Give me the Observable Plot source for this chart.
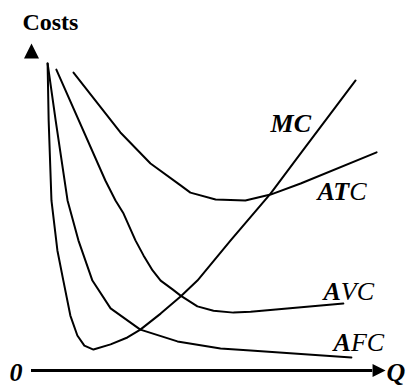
<!DOCTYPE html>
<html><head><meta charset="utf-8">
<script src="https://cdn.jsdelivr.net/npm/d3@7"></script>
<script src="https://cdn.jsdelivr.net/npm/@observablehq/plot@0.6"></script>
<style>html,body{margin:0;padding:0;background:#fff}</style>
</head><body><div id="chart"></div>
<script>
// Cost curves: [quantity, cost]
const mc = [[4.6,93.9],[4.9,76.5],[5.7,52.0],[7.4,36.7],[9.1,27.5],[11.1,16.8],[13.1,10.7],[15.1,7.6],[17.7,6.4],[22.6,8.0],[27.4,10.1],[31.1,12.5],[36.9,17.4],[42.6,22.6],[47.4,27.5],[56.9,39.8],[68.3,54.1],[76.9,66.4],[88.3,82.6],[92.6,88.7]];
const atc = [[12.0,91.1],[25.4,72.8],[34.0,63.3],[42.6,56.6],[45.4,54.4],[52.6,52.3],[61.1,52.0],[68.3,53.8],[76.9,57.2],[98.6,66.7]];
const avc = [[7.1,92.0],[21.1,58.1],[24.0,52.0],[26.3,48.0],[29.7,39.8],[32.0,35.2],[34.6,30.6],[36.9,27.5],[40.3,24.8],[42.6,22.9],[47.4,19.6],[52.0,18.3],[57.7,17.7],[62.6,18.0],[89.1,20.5]];
const afc = [[4.6,93.9],[6.9,76.5],[10.3,52.0],[13.4,39.8],[17.4,27.5],[22.6,19.0],[31.1,12.5],[41.7,8.9],[54.0,6.7],[62.6,6.1],[91.4,4.0]];

// Curve labels: bold part + plain part, and where each sits
const labelNames = ["MC", "ATC", "AVC", "AFC"];
const labelBold  = ["MC", "AT", "A", "A"];
const labelPlain = ["", "C", "VC", "FC"];
const labelQ = [68.3, 81.7, 83.4, 86.3];
const labelC = [72.8, 52.0, 21.7, 6.1];

const axisTitleY = "Costs";
const axisTitleX = "Q";
const originLabel = "0";

const serif = "'Liberation Serif', 'Times New Roman', serif";

const triUp = {draw(ctx, size) {const r = Math.sqrt(size / Math.PI); ctx.moveTo(0, -r); ctx.lineTo(r, r); ctx.lineTo(-r, r); ctx.closePath();}};
const triRight = {draw(ctx, size) {const r = Math.sqrt(size / Math.PI); ctx.moveTo(r, 0); ctx.lineTo(-r, -r); ctx.lineTo(-r, r); ctx.closePath();}};

const labels = labelNames.map((n, i) => ({name: n, q: labelQ[i], c: labelC[i]}));
const curves = [mc, atc, avc, afc];

const svg = Plot.plot({
  width: 406, height: 386,
  marginLeft: 31, marginRight: 25, marginTop: 43, marginBottom: 16,
  x: {domain: [0, 100], axis: null},
  y: {domain: [0, 100], axis: null},
  style: {fontFamily: serif, background: "white", overflow: "visible", color: "black"},
  marks: [
    Plot.ruleY([{y: 0, x1: 0, x2: 97.5}], {y: "y", x1: "x1", x2: "x2", stroke: "black", strokeWidth: 3}),
    Plot.dot([[99.3, 0]], {x: d => d[0], y: d => d[1], symbol: triRight, r: 6.5, fill: "black", stroke: "none"}),
    Plot.dot([[0, 97.7]], {x: d => d[0], y: d => d[1], symbol: triUp, r: 7.5, fill: "black", stroke: "none"}),
    ...curves.map(c => Plot.line(c, {x: d => d[0], y: d => d[1], stroke: "black", strokeWidth: 2})),
    Plot.text(labels, {x: "q", y: "c", text: "name", textAnchor: "start", lineAnchor: "bottom", fontSize: 26, fontStyle: "italic", fill: "black"}),
    Plot.text([axisTitleY], {x: -2.6, y: 104.0, text: d => d, textAnchor: "start", lineAnchor: "bottom", fontSize: 24, fontWeight: "bold", fill: "black"}),
    Plot.text([axisTitleX], {x: 101.4, y: -3.1, text: d => d, textAnchor: "start", lineAnchor: "bottom", fontSize: 26, fontWeight: "bold", fontStyle: "italic", fill: "black"}),
    Plot.text([originLabel], {x: -4.4, y: -3.1, text: d => d, textAnchor: "middle", lineAnchor: "bottom", fontSize: 26, fontWeight: "bold", fontStyle: "italic", fill: "black"})
  ]
});

// split curve labels into bold and plain runs
d3.select(svg).selectAll("text").each(function() {
  const i = labelNames.indexOf(this.textContent);
  if (i < 0) return;
  const t = d3.select(this);
  t.text(null);
  t.append("tspan").attr("font-weight", "bold").text(labelBold[i]);
  if (labelPlain[i]) t.append("tspan").attr("font-weight", "normal").text(labelPlain[i]);
});

document.getElementById("chart").appendChild(svg);
</script>
</body></html>
